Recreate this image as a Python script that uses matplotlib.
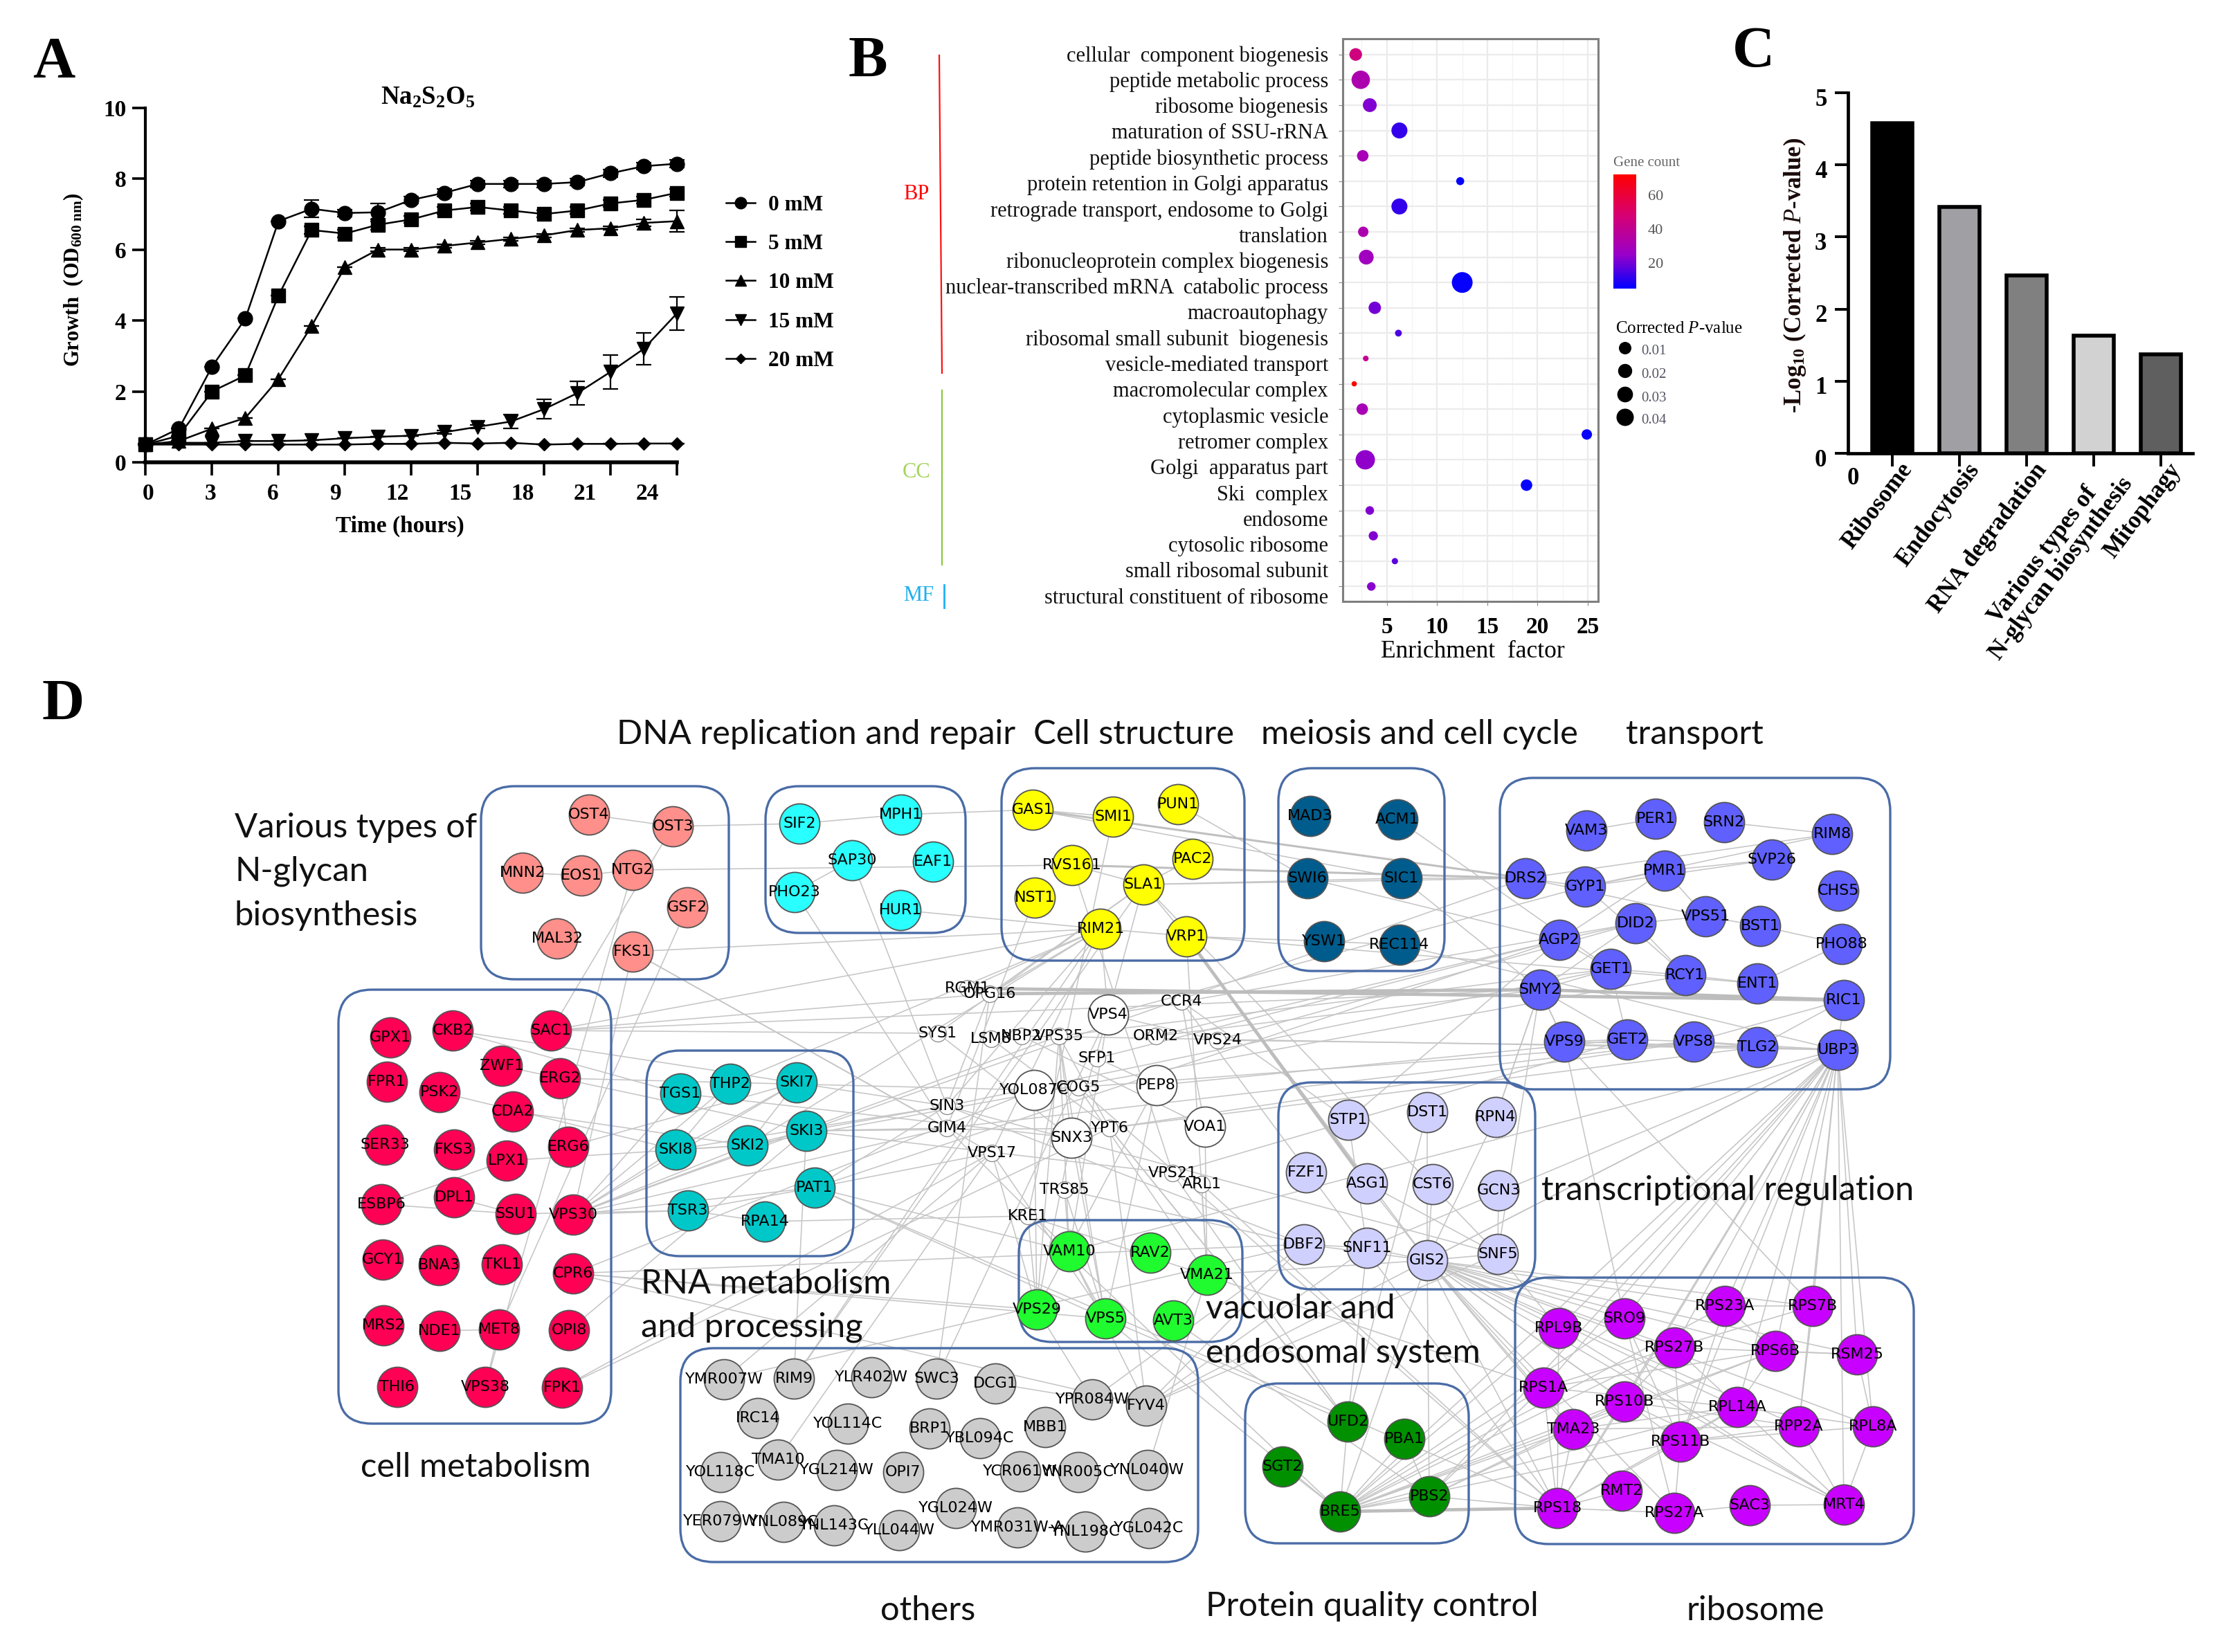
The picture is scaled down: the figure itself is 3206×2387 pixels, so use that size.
import numpy as np
import matplotlib
matplotlib.use('Agg')
import matplotlib.pyplot as plt
from matplotlib.colors import LinearSegmentedColormap
from matplotlib.lines import Line2D
from matplotlib.patches import FancyBboxPatch
from matplotlib.transforms import ScaledTranslation

W, H = 3206, 2387
PT = 0.72  # one pixel in points at dpi=100
SERIF = 'Liberation Serif'
SANS = 'Lato'

plt.rcParams['font.family'] = SERIF
plt.rcParams['mathtext.fontset'] = 'custom'
plt.rcParams['mathtext.rm'] = SERIF
plt.rcParams['mathtext.it'] = SERIF + ':italic'
plt.rcParams['mathtext.bf'] = SERIF + ':bold'

# panel A
hours = [0, 1.5, 3, 4.5, 6, 7.5, 9, 10.5, 12, 13.5, 15, 16.5, 18, 19.5, 21, 22.5, 24]
od_0 = [0.5, 0.95, 2.7, 4.05, 6.8, 7.15, 7.03, 7.05, 7.4, 7.6, 7.85, 7.85, 7.85, 7.9, 8.15, 8.35, 8.42]
od_5 = [0.5, 0.75, 2.0, 2.45, 4.7, 6.55, 6.45, 6.7, 6.85, 7.1, 7.2, 7.1, 7.0, 7.1, 7.3, 7.4, 7.6]
od_10 = [0.5, 0.6, 0.95, 1.25, 2.35, 3.85, 5.5, 6.0, 6.0, 6.1, 6.2, 6.3, 6.4, 6.55, 6.6, 6.75, 6.8]
od_15 = [0.5, 0.55, 0.55, 0.6, 0.6, 0.62, 0.68, 0.72, 0.75, 0.85, 1.0, 1.15, 1.5, 1.95, 2.55, 3.2, 4.2]
od_20 = [0.5, 0.5, 0.5, 0.5, 0.5, 0.5, 0.5, 0.52, 0.52, 0.55, 0.53, 0.55, 0.5, 0.52, 0.52, 0.53, 0.53]
err_0 = [0, 0, 0, 0, 0, 0.25, 0.1, 0.25, 0.1, 0.1, 0.1, 0.1, 0.1, 0.1, 0.1, 0.1, 0.1]
err_5 = [0, 0, 0, 0, 0, 0.1, 0.1, 0.15, 0.1, 0.1, 0.1, 0.1, 0.1, 0.1, 0.1, 0.1, 0.1]
err_10 = [0, 0, 0, 0, 0, 0, 0, 0.05, 0.05, 0.05, 0.05, 0.05, 0.05, 0.05, 0.05, 0.1, 0.3]
err_15 = [0, 0, 0, 0, 0, 0, 0, 0, 0, 0.05, 0.05, 0.2, 0.28, 0.33, 0.48, 0.45, 0.47]
err_20 = [0] * 17
conc_labels = ['0 mM', '5 mM', '10 mM', '15 mM', '20 mM']
conc_markers = ['o', 's', '^', 'v', 'D']
conc_ms = [15, 15, 14, 14, 9]
hour_ticks = [0, 3, 6, 9, 12, 15, 18, 21, 24]

# panel B
terms = ['cellular  component biogenesis', 'peptide metabolic process', 'ribosome biogenesis',
         'maturation of SSU-rRNA', 'peptide biosynthetic process', 'protein retention in Golgi apparatus',
         'retrograde transport, endosome to Golgi', 'translation', 'ribonucleoprotein complex biogenesis',
         'nuclear-transcribed mRNA  catabolic process', 'macroautophagy', 'ribosomal small subunit  biogenesis',
         'vesicle-mediated transport', 'macromolecular complex', 'cytoplasmic vesicle', 'retromer complex',
         'Golgi  apparatus part', 'Ski  complex', 'endosome', 'cytosolic ribosome', 'small ribosomal subunit',
         'structural constituent of ribosome']
enrichment = [1.9, 2.4, 3.3, 6.25, 2.6, 12.3, 6.25, 2.65, 2.95, 12.5, 3.8, 6.15, 2.9, 1.75, 2.55, 24.9, 2.85, 18.9, 3.3, 3.65, 5.8, 3.45]
gene_count = [45, 32, 22, 12, 30, 6, 12, 32, 28, 6, 20, 15, 40, 72, 30, 6, 24, 6, 22, 22, 17, 23]
p_value = [0.0195, 0.034, 0.0226, 0.028, 0.0167, 0.008, 0.028, 0.014, 0.025, 0.040, 0.019, 0.005, 0.002, 0.001,
           0.0167, 0.014, 0.0365, 0.0167, 0.0094, 0.011, 0.0035, 0.0094]
p_legend = [0.01, 0.02, 0.03, 0.04]

# panel C
pathways = ['Ribosome', 'Endocytosis', 'RNA degradation', 'Various types of\nN-glycan biosynthesis', 'Mitophagy']
log_p = [4.58, 3.42, 2.47, 1.63, 1.37]
bar_colors = ['#000000', '#a0a0a4', '#808080', '#d2d2d2', '#5f5f5f']

# panel D, node names and layout per module
salmon = ['OST4', 'OST3', 'MNN2', 'EOS1', 'NTG2', 'GSF2', 'MAL32', 'FKS1']
salmon_x = [851, 972, 755, 840, 914, 993, 805, 914]
salmon_y = [1177, 1194, 1261, 1265, 1257, 1311, 1356, 1375]
cyan = ['SIF2', 'MPH1', 'SAP30', 'EAF1', 'PHO23', 'HUR1']
cyan_x = [1155, 1302, 1231, 1348, 1148, 1301]
cyan_y = [1190, 1177, 1243, 1245, 1289, 1315]
crimson = ['GPX1', 'CKB2', 'SAC1', 'ZWF1', 'ERG2', 'FPR1', 'PSK2', 'CDA2', 'SER33', 'FKS3', 'LPX1', 'ERG6', 'ESBP6', 'DPL1',
           'SSU1', 'VPS30', 'GCY1', 'BNA3', 'TKL1', 'CPR6', 'MRS2', 'NDE1', 'MET8', 'OPI8', 'THI6', 'VPS38', 'FPK1']
crimson_x = [564, 654, 796, 725, 809, 559, 635, 741, 556, 656, 732, 821, 551, 656, 745, 828, 553, 634, 725, 828, 554, 635, 721, 822, 574, 701, 812]
crimson_y = [1499, 1489, 1489, 1540, 1558, 1563, 1578, 1606, 1654, 1661, 1677, 1657, 1740, 1730, 1754, 1755, 1820, 1828, 1827, 1840, 1915, 1923, 1921, 1922, 2004, 2004, 2005]
teal = ['TGS1', 'THP2', 'SKI7', 'SKI8', 'SKI2', 'SKI3', 'PAT1', 'TSR3', 'RPA14']
teal_x = [983, 1055, 1151, 976, 1080, 1165, 1177, 994, 1105]
teal_y = [1580, 1566, 1564, 1661, 1655, 1634, 1716, 1749, 1765]
yellow = ['GAS1', 'SMI1', 'PUN1', 'RVS161', 'PAC2', 'NST1', 'SLA1', 'RIM21', 'VRP1']
yellow_x = [1492, 1608, 1702, 1549, 1723, 1495, 1652, 1590, 1714]
yellow_y = [1170, 1180, 1162, 1250, 1241, 1297, 1278, 1342, 1353]
navy = ['MAD3', 'ACM1', 'SWI6', 'SIC1', 'YSW1', 'REC114']
navy_x = [1893, 2019, 1889, 2025, 1913, 2022]
navy_y = [1179, 1184, 1269, 1269, 1360, 1365]
white_big = ['VPS4', 'PEP8', 'YOL087C', 'SNX3', 'VOA1']
white_big_x = [1601, 1671, 1494, 1548, 1741]
white_big_y = [1466, 1568, 1575, 1644, 1628]
white_small = ['RGM1', 'OPG16', 'CCR4', 'SYS1', 'LSM8', 'NBP2', 'VPS35', 'ORM2', 'VPS24', 'SFP1', 'COG5', 'SIN3', 'GIM4', 'YPT6',
               'VPS17', 'VPS21', 'ARL1', 'TRS85', 'KRE1']
white_small_x = [1398, 1430, 1707, 1355, 1432, 1476, 1530, 1670, 1759, 1585, 1558, 1368, 1368, 1603, 1433, 1694, 1736, 1538, 1485]
white_small_y = [1428, 1436, 1447, 1493, 1501, 1497, 1497, 1497, 1503, 1529, 1571, 1598, 1630, 1630, 1666, 1695, 1711, 1719, 1757]
lime = ['VAM10', 'RAV2', 'VMA21', 'VPS29', 'VPS5', 'AVT3']
lime_x = [1545, 1662, 1744, 1498, 1597, 1695]
lime_y = [1808, 1810, 1842, 1892, 1905, 1908]
lavender = ['STP1', 'DST1', 'RPN4', 'FZF1', 'ASG1', 'CST6', 'GCN3', 'DBF2', 'SNF11', 'GIS2', 'SNF5']
lavender_x = [1948, 2062, 2161, 1887, 1975, 2070, 2165, 1884, 1975, 2062, 2164]
lavender_y = [1618, 1607, 1614, 1694, 1710, 1711, 1720, 1798, 1803, 1821, 1812]
blue = ['VAM3', 'PER1', 'SRN2', 'RIM8', 'SVP26', 'CHS5', 'DRS2', 'GYP1', 'PMR1', 'DID2', 'VPS51', 'BST1', 'PHO88', 'AGP2', 'GET1',
        'RCY1', 'ENT1', 'SMY2', 'RIC1', 'VPS9', 'GET2', 'VPS8', 'TLG2', 'UBP3']
blue_x = [2292, 2392, 2491, 2647, 2560, 2656, 2204, 2290, 2405, 2363, 2464, 2543, 2661, 2253, 2327, 2435, 2539, 2225, 2664, 2260, 2351, 2447, 2539, 2655]
blue_y = [1200, 1183, 1188, 1205, 1242, 1287, 1269, 1281, 1258, 1334, 1324, 1338, 1364, 1358, 1400, 1409, 1421, 1430, 1445, 1505, 1502, 1505, 1513, 1517]
magenta = ['RPL9B', 'SRO9', 'RPS23A', 'RPS7B', 'RPS27B', 'RPS6B', 'RSM25', 'RPS1A', 'RPS10B', 'RPL14A', 'RPP2A', 'RPL8A', 'TMA23',
           'RPS11B', 'RPS18', 'RMT2', 'RPS27A', 'SAC3', 'MRT4']
magenta_x = [2252, 2347, 2492, 2619, 2419, 2565, 2683, 2230, 2347, 2510, 2599, 2706, 2273, 2428, 2250, 2343, 2419, 2528, 2664]
magenta_y = [1919, 1905, 1887, 1887, 1947, 1952, 1957, 2005, 2025, 2033, 2061, 2061, 2065, 2083, 2179, 2154, 2186, 2175, 2174]
grey = ['YMR007W', 'RIM9', 'YLR402W', 'SWC3', 'DCG1', 'YPR084W', 'FYV4', 'IRC14', 'YOL114C', 'BRP1', 'YBL094C', 'MBB1', 'TMA10', 'YOL118C',
        'YGL214W', 'OPI7', 'YCR061W', 'YNR005C', 'YNL040W', 'YGL024W', 'YER079W', 'YNL089C', 'YNL143C', 'YLL044W', 'YMR031W-A', 'YNL198C', 'YGL042C']
grey_x = [1046, 1147, 1259, 1353, 1438, 1578, 1656, 1095, 1225, 1343, 1416, 1510, 1124, 1041, 1209, 1305, 1474, 1558, 1658, 1381, 1041, 1132, 1205, 1299, 1470, 1568, 1660]
grey_y = [1993, 1992, 1990, 1992, 1999, 2022, 2031, 2049, 2057, 2064, 2078, 2062, 2109, 2127, 2124, 2127, 2126, 2127, 2124, 2179, 2198, 2199, 2204, 2211, 2207, 2213, 2208]
forest = ['UFD2', 'PBA1', 'SGT2', 'PBS2', 'BRE5']
forest_x = [1947, 2029, 1853, 2065, 1936]
forest_y = [2054, 2079, 2119, 2162, 2184]

edges = """OST4-OST3 OST3-SIF2 SIF2-MPH1 MPH1-GAS1 MNN2-EOS1 EOS1-NTG2 NTG2-RVS161 OST3-SAC1 NTG2-VPS38 GSF2-MET8 FKS1-VPS30 FKS1-RIM21 FKS1-GIM4
FKS1-VPS17 PHO23-SAP30 PHO23-GIM4 SAP30-SIN3 HUR1-RIM21 SAC1-RIM21 SAC1-SYS1 SAC1-SMY2 SAC1-OPG16 CKB2-TGS1 CKB2-SIN3 ZWF1-SKI3 ERG2-ERG6 ERG2-YOL087C
PSK2-SKI8 CDA2-SKI2 ERG6-SKI7 ESBP6-LPX1 ESBP6-SSU1 DPL1-SSU1 VPS30-SKI8 VPS30-SKI2 VPS30-SKI3 VPS30-SKI7 VPS30-THP2 VPS30-PAT1 VPS30-TSR3 VPS30-TGS1 VPS30-GIM4
VPS30-VPS35 SSU1-TSR3 LPX1-SKI2 CPR6-VPS5 CPR6-VPS29 CPR6-YOL087C CPR6-FYV4 CPR6-DBF2 NDE1-MET8 MET8-VPS38 OPI8-SKI3 FPK1-VPS17 FPK1-YPT6 THP2-SKI8 SKI7-SKI8 SKI7-SKI2 SKI8-SKI2
SKI2-SKI3 SKI3-GIM4 SKI3-YPT6 SKI3-DRS2 SKI3-SIN3 SKI8-SIN3 SKI2-RIM21 THP2-RIM21 PAT1-SIN3 PAT1-VPS17 PAT1-VAM10 PAT1-VPS5 PAT1-RPS18 PAT1-AGP2 TSR3-RPA14 TSR3-PAT1
RPA14-KRE1 TGS1-SNX3 SKI3-VPS21 SKI2-RCY1 SMI1-GAS1 GAS1-SIC1 SMI1-KRE1 RVS161-SLA1 RVS161-VPS21 SLA1-PAC2 SLA1-VPS4 SLA1-VRP1 SLA1-SNF5 SLA1-DRS2 SLA1-SYS1 SLA1-OPG16 SLA1-SIC1
RIM21-SIN3 RIM21-VPS17 RIM21-RIM9 RIM21-OPG16 SLA1-RIM9 RIM21-ENT1 NST1-GIM4 VRP1-YSW1 VRP1-VMA21 VRP1-GIS2 PUN1-SWI6 YSW1-REC114 REC114-UBP3 SIC1-SMY2 SIC1-DRS2 SWI6-AGP2 ACM1-GET1
RGM1-RIM21 OPG16-SIN3 OPG16-SWC3 CCR4-VOA1 CCR4-STP1 CCR4-RPS18 VPS4-GYP1 VPS4-VAM10 VPS4-RIM21 VPS4-DID2 SYS1-SNX3 LSM8-YPT6 NBP2-UBP3 NBP2-VOA1 VPS35-SNX3 VPS35-YPT6 VPS35-VPS29 VPS35-VAM10 VPS35-VPS5
VPS35-GET1 ORM2-AGP2 ORM2-SMY2 VPS24-DID2 VPS24-VPS4 VPS24-TLG2 SFP1-PEP8 SFP1-AGP2 PEP8-VPS29 PEP8-VPS5 PEP8-GET2 YOL087C-COG5 YOL087C-VPS29 COG5-VMA21 COG5-RPS18 COG5-VPS8 SNX3-VPS5 SNX3-VPS29 SNX3-VPS4
SIN3-SNF5 SIN3-DBF2 SIN3-GET1 GIM4-VPS8 GIM4-VAM10 YPT6-FYV4 YPT6-VPS8 YPT6-UFD2 YPT6-TLG2 VPS17-VPS29 VPS17-VPS5 VPS17-YMR007W VPS17-TMA10 VOA1-VMA21 VPS21-UFD2 VPS21-GET2 ARL1-VMA21 ARL1-RPS18 TRS85-VAM10 TRS85-VPS5 TRS85-DBF2
KRE1-VPS29 KRE1-BRE5 KRE1-RPS1A VPS29-YPR084W VPS5-BRE5 VPS5-VAM10 AVT3-PBS2 AVT3-VMA21 VMA21-GIS2 VAM10-FYV4 DBF2-SNF11 DBF2-GIS2 STP1-AGP2 STP1-SNF11 DST1-GIS2 RPN4-GIS2 RPN4-SMY2 ASG1-GIS2 ASG1-SNF5 CST6-GIS2 GCN3-SNF5
SNF5-SMY2 SNF5-RPL9B SNF11-GIS2 GIS2-SNF5 GIS2-UBP3 GIS2-RPL9B GIS2-SRO9 GIS2-RPS23A GIS2-RPS7B GIS2-RPS27B GIS2-RPS6B GIS2-RSM25 GIS2-RPS1A GIS2-RPS10B GIS2-RPL14A GIS2-RPP2A GIS2-RPL8A GIS2-TMA23 GIS2-RPS11B GIS2-RPS18
GIS2-RPS27A GIS2-MRT4 GIS2-RMT2 GIS2-BRE5 GIS2-PBS2 UBP3-RPL9B UBP3-SRO9 UBP3-RPS23A UBP3-RPS7B UBP3-RPS27B UBP3-RPS6B UBP3-RSM25 UBP3-RPS1A UBP3-RPS10B UBP3-RPL14A UBP3-RPP2A UBP3-RPL8A UBP3-RPS11B UBP3-RPS18 UBP3-MRT4
UBP3-GIS2 UBP3-SNF11 UBP3-BRE5 UBP3-PBS2 UBP3-TLG2 UBP3-RIC1 UBP3-VPS8 UBP3-VAM10 VPS9-RPS7B VPS9-SRO9 VPS9-GET2 VPS9-SMY2 GET2-VPS8 VPS8-TLG2 GET1-GET2 GET1-SMY2 GET1-AGP2 GET1-RCY1 SMY2-VPS9 SMY2-GET2 SMY2-DID2 SMY2-RPN4 AGP2-DID2
AGP2-PMR1 DRS2-GYP1 DRS2-VPS51 DRS2-RIM8 GYP1-PMR1 GYP1-RCY1 PMR1-SVP26 PMR1-VPS51 DID2-VPS51 DID2-RCY1 VPS51-BST1 BST1-PHO88 ENT1-PHO88 RCY1-ENT1 SRN2-RIM8 PER1-VAM3 SVP26-GYP1 RIM8-GYP1 RIC1-VPS8 RIC1-TLG2 TLG2-VPS9
BRE5-UFD2 BRE5-PBA1 BRE5-SGT2 BRE5-PBS2 BRE5-RPL9B BRE5-SRO9 BRE5-RPS1A BRE5-RPS10B BRE5-RPS27B BRE5-TMA23 BRE5-RPS11B BRE5-RPS23A BRE5-RPL14A BRE5-RPS6B PBS2-PBA1 PBS2-RPS1A PBS2-RPS10B PBS2-TMA23 PBS2-RPS18 UFD2-SNF11 UFD2-YPT6 UFD2-DST1 UFD2-VPS5
RPL9B-RPS18 SRO9-RPS11B SRO9-RPS27A RPS23A-RPS6B RPS23A-RPS11B RPS23A-RPS7B RPS7B-RPP2A RPS7B-RPS27B RPS27B-RPS10B RPS27B-RPS1A RPS27B-RPS11B RPS6B-RSM25 RPS6B-RPL14A RPS6B-TMA23 RSM25-RPL8A RSM25-RPS27B RPS1A-RPS18 RPS1A-RPL14A RPS1A-RPS6B
RPS10B-RPS18 RPS10B-RPP2A RPS10B-MRT4 RPL14A-RPS18 RPL14A-RPL8A RPL14A-RPS11B RPL14A-TMA23 RPP2A-RPS11B RPP2A-MRT4 RPL8A-MRT4 TMA23-RPS18 TMA23-RPP2A RPS11B-RPS18 RPS11B-RPS27A RPS11B-RPL8A RPS18-RMT2 RPS18-RPS27A RPS27A-SAC3 SAC3-MRT4 RPL9B-MRT4 RPS27B-MRT4
RIM9-SKI3 SWC3-VPS4 YMR007W-DBF2 FYV4-SNF11 FYV4-DBF2 FYV4-SNF5 YPR084W-DCG1 YNL040W-VMA21 FYV4-GIS2 YPR084W-DBF2""".split()

# the heavier links
medium_edges = ['GAS1-DRS2', 'RVS161-DRS2']
thick_edges = ['SMY2-RIC1', 'OPG16-SMY2', 'RGM1-RIC1', 'VRP1-ASG1', 'BRE5-RPS18']

modules = [
    (salmon, salmon_x, salmon_y, '#ff8f8a'),
    (cyan, cyan_x, cyan_y, '#2affff'),
    (crimson, crimson_x, crimson_y, '#ff0055'),
    (teal, teal_x, teal_y, '#00c8c8'),
    (yellow, yellow_x, yellow_y, '#ffff00'),
    (navy, navy_x, navy_y, '#005c8c'),
    (lime, lime_x, lime_y, '#20fb30'),
    (lavender, lavender_x, lavender_y, '#d0d0ff'),
    (blue, blue_x, blue_y, '#6060ff'),
    (magenta, magenta_x, magenta_y, '#c800ff'),
    (grey, grey_x, grey_y, '#cccccc'),
    (forest, forest_x, forest_y, '#009000'),
    (white_big, white_big_x, white_big_y, '#ffffff'),
]

# (left, top, right, bottom) of the rounded frames
frames = [(695, 1136, 1053, 1415), (1106, 1136, 1395, 1348), (489, 1430, 883, 2057), (934, 1518, 1233, 1815),
          (1447, 1110, 1798, 1388), (1847, 1110, 2087, 1403), (2167, 1124, 2731, 1574), (1847, 1564, 2218, 1863),
          (1472, 1763, 1795, 1939), (983, 1948, 1731, 2257), (1799, 1999, 2122, 2230), (2189, 1846, 2765, 2231)]

group_names = ['DNA replication and repair', 'Cell structure', 'meiosis and cell cycle', 'transport',
               'Various types of', 'N-glycan', 'biosynthesis', 'RNA metabolism', 'and processing', 'cell metabolism',
               'transcriptional regulation', 'vacuolar and', 'endosomal system', 'others', 'Protein quality control', 'ribosome']
group_x = [891, 1493, 1822, 2349, 339, 339, 339, 926, 926, 521, 2227, 1742, 1742, 1272, 1742, 2437]
group_y = [1061, 1061, 1061, 1061, 1196, 1259, 1323, 1855, 1918, 2120, 1720, 1891, 1955, 2327, 2321, 2327]

fig = plt.figure(figsize=(W / 100, H / 100), dpi=100)

# everything in panel D and the loose labels sit on one pixel-sized axes
ov = fig.add_axes([0, 0, 1, 1])
ov.set_xlim(0, W)
ov.set_ylim(H, 0)
ov.axis('off')


def px_axes(x0, y0, x1, y1):
    a = fig.add_axes([x0 / W, 1 - y1 / H, (x1 - x0) / W, (y1 - y0) / H])
    a.patch.set_alpha(0)
    return a


for label, x, y in [('A', 47, 112), ('B', 1226, 111), ('C', 2503, 97), ('D', 61, 1040)]:
    ov.text(x, y, label, fontsize=61, fontweight='bold', ha='left', va='baseline', color='black')

# A: growth curves
ax_a = px_axes(210.5, 155.6, 978, 668)
series = [(od_0, err_0), (od_5, err_5), (od_10, err_10), (od_15, err_15), (od_20, err_20)]
handles = []
for (vals, errs), lab, mk, ms in zip(series, conc_labels, conc_markers, conc_ms):
    ax_a.errorbar(hours, vals, yerr=errs, color='black', marker=mk, ms=ms, lw=1.8, capsize=8, capthick=1.6,
                  elinewidth=1.6, clip_on=False, zorder=3)
    handles.append(Line2D([], [], color='black', marker=mk, ms=ms, lw=1.8, label=lab))
ax_a.set_xlim(0, 24)
ax_a.set_ylim(0, 10)
ax_a.spines[['top', 'right']].set_visible(False)
ax_a.spines['left'].set_linewidth(3)
ax_a.spines['bottom'].set_linewidth(4)
ax_a.set_xticks(hour_ticks)
ax_a.set_xticklabels([])
ax_a.set_yticks([0, 2, 4, 6, 8, 10])
ax_a.tick_params(axis='both', length=14, width=2.6)
ax_a.tick_params(axis='y', labelsize=24, pad=6)
plt.setp(ax_a.get_yticklabels(), fontweight='bold')
# the printed hour labels do not sit under their ticks
for i, t in enumerate(hour_ticks):
    ax_a.text(0.1 + i * 2.82, -0.88, str(t), fontsize=24, fontweight='bold', ha='center', va='center')
ov.text(618, 141, r'Na$_{\mathbf{2}}$S$_{\mathbf{2}}$O$_{\mathbf{5}}$', fontsize=26.5, fontweight='bold', ha='center', va='center')
ov.text(578, 760, 'Time (hours)', fontsize=24, fontweight='bold', ha='center', va='center')
ov.text(106, 404, r'Growth  (OD$_{\mathbf{600\ nm}}$)', fontsize=22, fontweight='bold', ha='center', va='center', rotation=90)
ax_a.legend(handles=handles, loc='upper left', bbox_to_anchor=(1049, 282), bbox_transform=ov.transData, frameon=False,
            borderpad=0, borderaxespad=0, handlelength=1.35, handletextpad=0.6, labelspacing=0.87,
            prop={'family': SERIF, 'weight': 'bold', 'size': 22.5}, markerscale=0.8)

# B: enrichment bubbles
gene_cmap = LinearSegmentedColormap.from_list('genes', [(0, '#0000ff'), (0.3, '#9a00c8'), (0.65, '#d80070'), (1, '#ff0000')])
ax_b = px_axes(1940, 56, 2309, 869)
rows = np.arange(len(terms))
diam = (7 + 575 * np.array(p_value)) * PT
sc = ax_b.scatter(enrichment, rows, s=diam ** 2, c=gene_count, cmap=gene_cmap, vmin=5, vmax=72, linewidths=0, zorder=3)
ax_b.set_xlim(0.61, 26.03)
ax_b.set_ylim(21.59, -0.62)
ax_b.set_xticks([5, 10, 15, 20, 25])
ax_b.set_yticks(rows)
ax_b.set_yticklabels([])
ax_b.set_xticks([7.5, 12.5, 17.5, 22.5, 2.5], minor=True)
ax_b.grid(True, which='major', color='#ebebeb', lw=1.6)
ax_b.grid(True, which='minor', axis='x', color='#f3f3f3', lw=1)
ax_b.set_axisbelow(True)
ax_b.tick_params(axis='both', which='major', length=4, color='#888888', pad=8)
ax_b.tick_params(axis='x', which='minor', length=0)
ax_b.tick_params(axis='x', labelsize=24, pad=12)
plt.setp(ax_b.get_xticklabels(), fontweight='bold')
for s in ax_b.spines.values():
    s.set_color('#7f7f7f')
    s.set_linewidth(2.2)
# term labels run on a slightly wider pitch than the rows of dots
for i, term in enumerate(terms):
    ov.text(1919, 81 + i * 37.3, term, fontsize=22, color='#111111', ha='right', va='center')
ov.text(2128, 942, 'Enrichment  factor', fontsize=25.5, ha='center', va='center')

ov.plot([1357, 1361], [80, 539], color='#ff1010', lw=1.6)
ov.plot([1361, 1361], [564, 816], color='#8cc63f', lw=1.6)
ov.plot([1364, 1364], [845, 878], color='#1fb0f0', lw=2)
ov.text(1324, 281, 'BP', color='#ff0000', fontsize=22, ha='center', va='center')
ov.text(1324, 682, 'CC', color='#a4d65e', fontsize=22, ha='center', va='center')
ov.text(1327, 861, 'MF', color='#1fb0f0', fontsize=22, ha='center', va='center')

cax = px_axes(2331, 252, 2364, 417)
cb = fig.colorbar(sc, cax=cax)
cb.set_ticks([20, 40, 60])
cb.outline.set_visible(False)
cax.tick_params(length=0, labelsize=16, labelcolor='#555555', pad=12)
ov.text(2331, 236, 'Gene count', fontsize=15, color='#666666', ha='left', va='center')
ov.text(2334, 475, r'Corrected $\mathit{P}$-value', fontsize=18, ha='left', va='center')
ov.scatter([2348] * 4, [503, 536, 570, 603], s=((15.7 + 233 * np.array(p_legend)) * PT) ** 2, color='black', linewidths=0)
for p, y in zip(p_legend, [503, 536, 570, 603]):
    ov.text(2371, y + 5, f'{p:.2f}', fontsize=15, color='#555566', ha='left', va='center')

# C: pathway bars
ax_c = px_axes(2670, 134, 3167.5, 655)
ax_c.bar(np.arange(1, 6), log_p, width=0.6, color=bar_colors, edgecolor='black', linewidth=4)
ax_c.set_xlim(0.34, 5.47)
ax_c.set_ylim(0, 5)
ax_c.spines[['top', 'right']].set_visible(False)
ax_c.spines[['left', 'bottom']].set_linewidth(3.4)
ax_c.set_yticks(range(6))
ax_c.set_xticks(range(1, 6))
ax_c.set_xticklabels([])
ax_c.tick_params(axis='both', length=14, width=2.8)
ax_c.tick_params(axis='y', labelsize=25, pad=8)
nudge = ScaledTranslation(0, -6 / 100, fig.dpi_scale_trans)
for lab in ax_c.get_yticklabels():
    lab.set_fontweight('bold')
    lab.set_transform(lab.get_transform() + nudge)
for i, name in enumerate(pathways):
    ax_c.text(i + 1.1, -0.08, name, fontsize=25, fontweight='bold', rotation=53, rotation_mode='anchor',
              ha='right', va='top', linespacing=1.05, multialignment='center')
ov.text(2677, 692, '0', fontsize=25, fontweight='bold', ha='center', va='center')
ov.text(2593, 398, r'-Log$_{\mathbf{10}}$ (Corrected $\mathbf{\mathit{P}}$-value)', fontsize=25, fontweight='bold', color='#1a0a0a', ha='center', va='center', rotation=90)

# D: interaction network
pos = {}
for names, xs, ys, col in modules:
    pos.update(dict(zip(names, zip(xs, ys))))
pos.update(dict(zip(white_small, zip(white_small_x, white_small_y))))


def draw_links(pairs, lw, color):
    for e in pairs:
        a, b = e.split('-', 1)
        ov.plot([pos[a][0], pos[b][0]], [pos[a][1], pos[b][1]], color=color, lw=lw, zorder=1, solid_capstyle='round')


draw_links(edges, 1.15, '#c6c6c6')
draw_links(medium_edges, 2.2, '#c0c0c0')
draw_links(thick_edges, 3.4, '#bdbdbd')

for l, t, r, b in frames:
    ov.add_patch(FancyBboxPatch((l + 48, t + 48), r - l - 96, b - t - 96, boxstyle='round,pad=48,rounding_size=48',
                                fill=False, edgecolor='#4a6ca6', lw=2.4, zorder=2))

for names, xs, ys, col in modules:
    ov.scatter(xs, ys, s=(58 * PT) ** 2, color=col, edgecolors='#555555', linewidths=1.3, zorder=3)
ov.scatter(white_small_x, white_small_y, s=(24 * PT) ** 2, color='white', edgecolors='#888888', linewidths=0.9, zorder=3)

for name, (x, y) in pos.items():
    ov.text(x, y, name, family='DejaVu Sans', fontsize=16, color='black', ha='center', va='center', zorder=4)

for name, x, y in zip(group_names, group_x, group_y):
    ov.text(x, y, name, family=SANS, fontsize=35.3, color='#111111', ha='left', va='center', zorder=5)

fig.savefig('out.png', dpi=100, facecolor='white')
